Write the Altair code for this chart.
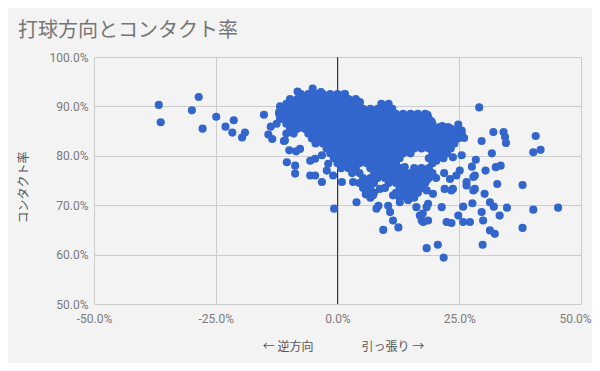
import altair as alt
import pandas as pd

# ---- scattered points left of the core (x = 打球方向, y = コンタクト率, in %)
left_x = [-36.7, -36.3, -28.5, -29.9, -27.7, -24.9, -23.0, -21.3, -21.6, -19.0, -19.6,
          -15.1, -13.7, -14.2, -13.4, -11.8, -11.0, -9.9, -8.5, -10.4, -8.7, -8.7,
          -8.2, -8.7, -11.8, -5.1, -3.4, 1.5, -7.7, -5.6, -4.6, -3.2, -1.9, -2.2,
          -5.6, -4.6, -3.2, -0.9, 0.9, 3.2, 3.9, -0.7, -10.8, -12.5, -12.0]
left_y = [90.3, 86.8, 91.9, 89.2, 85.5, 87.9, 85.9, 87.2, 84.7, 84.7, 83.7,
          88.3, 85.9, 84.3, 83.4, 90.0, 83.0, 81.1, 80.9, 78.7, 78.0, 76.4,
          93.0, 90.8, 87.5, 93.6, 92.9, 92.5, 81.4, 79.0, 79.4, 80.1, 78.4, 77.0,
          76.0, 76.0, 74.7, 76.0, 74.7, 74.7, 70.6, 69.3, 83.1, 86.5, 88.8]

# ---- dense core, row by row
core_row_y = [92.5, 91.5, 90.5, 89.5, 88.5, 87.5, 86.5, 85.5, 84.5, 83.5,
              82.5, 81.5, 80.5, 79.5, 78.5, 77.5, 76.5, 75.5, 74.5, 73.5, 72.5, 71.5]
core_row_x = [
    [-7.5, -6, -4.5, -3, -1.5, 0, 1.5],
    [-9.75, -8.25, -6.75, -5.25, -3.75, -2.25, -0.75, 0.75, 2.25, 3.75],
    [-10.5, -9, -7.5, -6, -4.5, -3, -1.5, 0, 1.5, 3, 4.5, 9, 10.5],
    [-11.25, -9.75, -8.25, -6.75, -5.25, -3.75, -2.25, -0.75, 0.75, 2.25, 3.75, 5.25,
     6.75, 8.25, 9.75, 11.25],
    [-12, -10.5, -9, -7.5, -6, -4.5, -3, -1.5, 0, 1.5, 3, 4.5, 6, 7.5, 9, 10.5, 12,
     13.5, 15, 16.5, 18],
    [-11.25, -9.75, -8.25, -6.75, -5.25, -3.75, -2.25, -0.75, 0.75, 2.25, 3.75, 5.25,
     6.75, 8.25, 9.75, 11.25, 12.75, 14.25, 15.75, 17.25, 18.75],
    [-10.5, -9, -7.5, -6, -4.5, -3, -1.5, 0, 1.5, 3, 4.5, 6, 7.5, 9, 10.5, 12, 13.5,
     15, 16.5, 18, 19.5],
    [-9.75, -8.25, -6.75, -5.25, -3.75, -2.25, -0.75, 0.75, 2.25, 3.75, 5.25, 6.75,
     8.25, 9.75, 11.25, 12.75, 14.25, 15.75, 17.25, 18.75, 20.25, 21.75, 23.25, 24.75],
    [-10.5, -9, -6, -4.5, -3, -1.5, 0, 1.5, 3, 4.5, 6, 7.5, 9, 10.5, 12, 13.5, 15,
     16.5, 18, 19.5, 21, 22.5, 24, 25.5],
    [-5.25, -3.75, -2.25, -0.75, 0.75, 2.25, 3.75, 5.25, 6.75, 8.25, 9.75, 11.25,
     12.75, 14.25, 15.75, 17.25, 18.75, 20.25, 21.75, 23.25, 24.75],
    [-4.5, -3, -1.5, 0, 1.5, 3, 4.5, 6, 7.5, 9, 10.5, 12, 13.5, 15, 16.5, 18, 19.5,
     21, 22.5, 24],
    [-2.25, -0.75, 0.75, 2.25, 3.75, 5.25, 6.75, 8.25, 9.75, 11.25, 12.75, 14.25,
     15.75, 17.25, 18.75, 20.25, 21.75, 23.25],
    [-1.5, 0, 1.5, 3, 4.5, 6, 7.5, 9, 10.5, 12, 13.5, 15, 19.5, 21, 22.5],
    [-0.75, 0.75, 2.25, 3.75, 5.25, 6.75, 8.25, 9.75, 11.25, 12.75, 18.75, 20.25, 21.75],
    [0, 1.5, 3, 4.5, 6, 7.5, 9, 10.5, 12, 19.5],
    [0.75, 2.25, 3.75, 6.75, 8.25, 9.75, 11.25, 12.75, 15.75, 17.25, 18.75],
    [3, 4.5, 7.5, 9, 10.5, 12, 13.5, 15, 16.5, 18, 19.5],
    [5.25, 6.75, 8.25, 9.75, 11.25, 12.75, 14.25, 15.75, 17.25, 18.75, 20.25],
    [4.5, 6, 7.5, 10.5, 12, 13.5, 15, 16.5, 18],
    [5.25, 6.75, 9.75, 12.75, 14.25, 15.75, 17.25],
    [6, 7.5, 12, 13.5, 15, 16.5],
    [6.75, 12.75, 14.25, 15.75],
]

# ---- right-hand cluster and scattered points
right_x = [18.4, 19.3, 21.5, 24.8, 25.5, 26.0, 15.9, 18.5, 13.2, 10.1, 4.6, 23.7, 25.5,
           25.1, 21.9, 24.4, 23.1, 23.7, 22.0, 19.6, 20.3, 16.9, 18.3, 13.8, 21.0, 22.7,
           29.1, 32.0, 29.6, 34.1, 34.4, 34.6, 40.7, 41.7, 40.2, 31.7, 28.4, 27.6, 30.4,
           32.5, 33.5, 32.8, 38.0, 27.9, 26.5, 28.2, 28.2, 30.2, 23.4, 26.5, 27.9]
right_y = [88.3, 87.0, 86.0, 86.3, 85.1, 83.6, 88.2, 88.2, 88.2, 90.0, 90.9, 79.7, 80.1,
           77.0, 76.5, 76.0, 75.3, 73.3, 73.3, 72.3, 79.0, 76.4, 75.0, 77.7, 85.8, 85.8,
           89.8, 84.8, 83.0, 84.8, 83.8, 82.6, 84.0, 81.2, 80.7, 80.5, 79.2, 77.8, 77.0,
           77.7, 78.0, 74.3, 74.1, 75.7, 74.7, 76.0, 73.3, 72.3, 73.0, 74.0, 73.0]

# ---- lower points
low_x = [5.8, 8.4, 8.0, 10.4, 10.8, 11.4, 9.4, 12.5, 12.8, 14.5, 16.2, 16.9, 17.6, 18.6,
         18.3, 20.6, 18.3, 18.3, 6.0, 8.7, 14.2, 18.6, 21.4, 25.8, 27.7, 31.3, 32.1, 34.8,
         40.2, 45.3, 29.6, 29.9, 33.3, 22.4, 23.4, 24.8, 25.8, 27.2, 31.3, 32.3, 38.0,
         29.8, 21.8, 17.3, 17.5, 7.3, 11.4]
low_y = [72.2, 69.9, 69.3, 69.9, 68.6, 66.9, 65.0, 65.5, 70.6, 71.0, 69.6, 67.9, 66.6, 66.9,
         61.3, 62.0, 69.6, 73.0, 73.6, 73.3, 72.3, 70.3, 69.6, 69.7, 70.4, 70.6, 69.7, 69.5,
         69.1, 69.5, 68.6, 66.9, 67.9, 66.6, 66.4, 67.9, 66.6, 66.6, 64.9, 64.2, 65.4,
         62.0, 59.4, 66.9, 68.3, 72.0, 72.0]

zero_line = [0]

xs, ys = [], []
xs += left_x; ys += left_y
for yy, row in zip(core_row_y, core_row_x):
    xs += row
    ys += [yy] * len(row)
xs += right_x; ys += right_y
xs += low_x; ys += low_y

df = pd.DataFrame({"dir": [v / 100 for v in xs], "contact": [v / 100 for v in ys]})
zdf = pd.DataFrame({"dir": zero_line})

label_font = "Roboto"
cjk_font = "Noto Sans CJK JP"

x_enc = alt.X(
    "dir:Q",
    scale=alt.Scale(domain=[-0.5, 0.5], nice=False, zero=False),
    axis=alt.Axis(
        values=[-0.5, -0.25, 0, 0.25, 0.5],
        labelExpr="(datum.value < 0 ? '-' : '') + format(abs(datum.value), '.1%')",
        labelOffset={"condition": {"test": "datum.value >= 0.5", "value": -6}, "value": 0},
        grid=True, gridColor="#cccccc", domain=False, ticks=False,
        labelFlush=False, labelOverlap=False, labelPadding=9,
        labelFont=label_font, labelFontSize=12, labelColor="#7a7a7a",
        title="← 逆方向　　　　引っ張り →",
        titleFont=cjk_font, titleFontSize=12, titleFontWeight="normal",
        titleColor="#555555", titleX=249, titleY=42,
        titleAlign="center", titleBaseline="middle",
    ),
)
y_enc = alt.Y(
    "contact:Q",
    scale=alt.Scale(domain=[0.5, 1.0], nice=False, zero=False),
    axis=alt.Axis(
        values=[0.5, 0.6, 0.7, 0.8, 0.9, 1.0],
        format=".1%",
        grid=True, gridColor="#cccccc", domain=False, ticks=False,
        labelPadding=6, labelFont=label_font, labelFontSize=12, labelColor="#7a7a7a",
        title="コンタクト率",
        titleFont=cjk_font, titleFontSize=12, titleFontWeight="normal",
        titleColor="#555555", titleAngle=270, titleX=-71, titleY=130,
        titleAlign="center", titleBaseline="middle",
    ),
)

rule = alt.Chart(zdf).mark_rule(color="#333333", strokeWidth=1).encode(x="dir:Q")
points = alt.Chart(df).mark_circle(size=66, color="#3366cc", opacity=1).encode(x=x_enc, y=y_enc)

chart = (
    alt.layer(rule, points)
    .properties(
        width=487,
        height=247,
        padding={"left": 86, "top": 49, "right": 11, "bottom": 59},
        autosize=alt.AutoSizeParams(type="none"),
        background="#f3f3f3",
        title=alt.TitleParams(
            "打球方向とコンタクト率", anchor="start", frame="group",
            font=cjk_font, fontSize=20, fontWeight="normal", color="#757575",
            dx=-76, offset=10,
        ),
    )
    .configure_view(stroke=None)
)

chart.save("out.html", embed_options={"renderer": "svg", "actions": False})
